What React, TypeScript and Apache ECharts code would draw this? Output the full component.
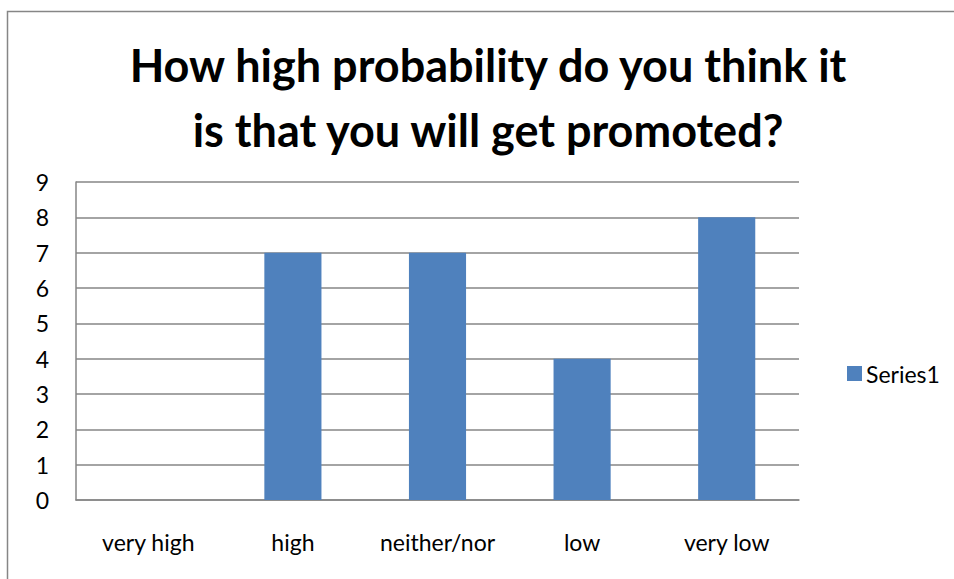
import React, { useEffect, useRef } from "react";
import * as echarts from "echarts";

const categories = ["very high", "high", "neither/nor", "low", "very low"];
const series1 = [0, 7, 7, 4, 8];
const titleLines = ["How high probability do you think it", "is that you will get promoted?"];
const seriesName = "Series1";

export default function App() {
  const ref = useRef<HTMLDivElement>(null);
  useEffect(() => {
    if (!ref.current) return;
    const chart = echarts.init(ref.current, null, { renderer: "svg" });
    const font = "Lato, 'Open Sans', sans-serif";
    chart.setOption({
      animation: false,
      backgroundColor: "#ffffff",
      textStyle: { fontFamily: font },
      graphic: [
        {
          type: "rect",
          shape: { x: 7.5, y: 11.5, width: 1200, height: 1200 },
          style: { fill: "none", stroke: "#868686", lineWidth: 1.5 },
          silent: true,
        },
        {
          type: "text",
          x: 488,
          y: 97,
          style: {
            text: titleLines.join("\n"),
            fontFamily: font,
            fontWeight: "bold",
            fontSize: 45,
            lineHeight: 65,
            fill: "#000000",
            align: "center",
            verticalAlign: "middle",
          },
        },
      ],
      legend: {
        left: 842,
        top: 357,
        itemWidth: 15,
        itemHeight: 15,
        itemGap: 10,
        icon: "rect",
        data: [seriesName],
        textStyle: { fontFamily: font, fontSize: 23, color: "#000", padding: [0, 0, 0, -1] },
      },
      grid: { left: 76, right: 155, top: 182, bottom: 79, containLabel: false },
      xAxis: {
        type: "category",
        data: categories,
        axisLine: { show: true, lineStyle: { color: "#868686", width: 1.5 } },
        axisTick: { show: false },
        axisLabel: { interval: 0, margin: 30, fontSize: 23, color: "#000", fontFamily: font },
      },
      yAxis: {
        type: "value",
        min: 0,
        max: 9,
        interval: 1,
        axisLine: { show: true, lineStyle: { color: "#868686", width: 1.5 } },
        axisTick: { show: false },
        axisLabel: { margin: 27, fontSize: 23, color: "#000", fontFamily: font },
        splitLine: { show: true, lineStyle: { color: "#868686", width: 1.5 } },
      },
      series: [
        {
          name: seriesName,
          type: "bar",
          data: series1,
          barWidth: "39.5%",
          itemStyle: { color: "#4F81BD", borderWidth: 0 },
        },
      ],
    });
    return () => chart.dispose();
  }, []);
  return (
    <div
      ref={ref}
      style={{ position: "absolute", left: 0, top: 0, width: 954, height: 579 }}
    />
  );
}
